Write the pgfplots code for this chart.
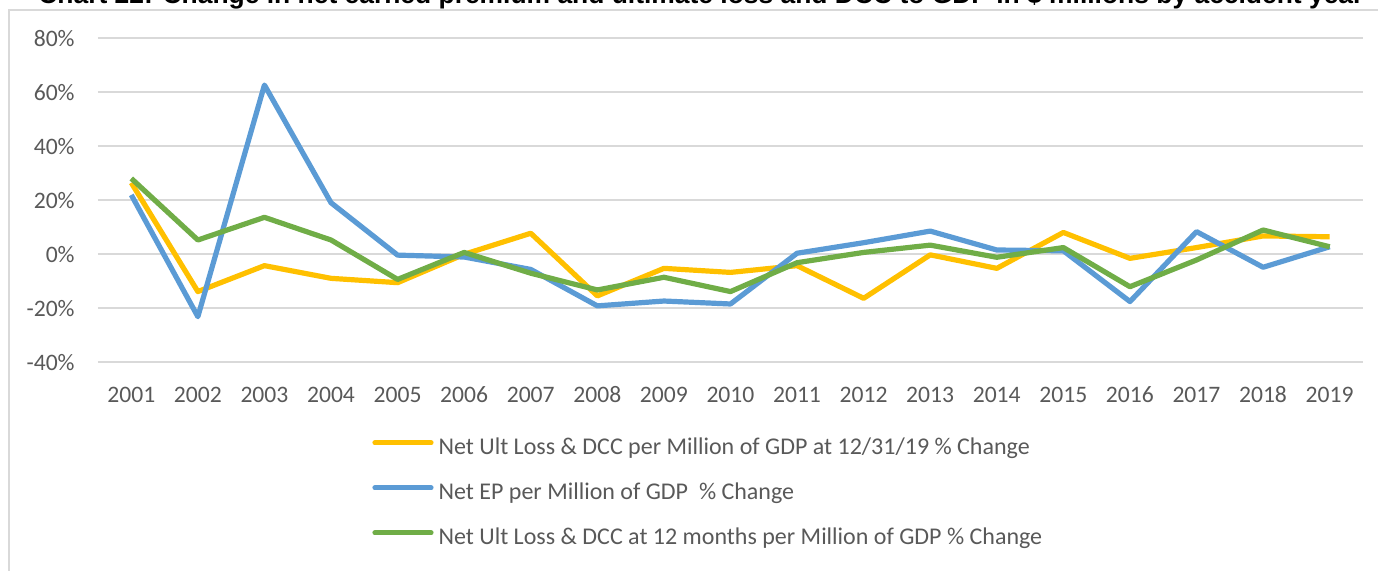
\documentclass[border=0pt]{standalone}
\usepackage{pgfplots}
\pgfplotsset{compat=1.18}
\usepackage{fontspec}
\setmainfont{Carlito}
\newfontfamily\titlefont{Liberation Sans}

\definecolor{cYel}{HTML}{FFC000}
\definecolor{cBlu}{HTML}{5B9BD5}
\definecolor{cGrn}{HTML}{70AD47}
\definecolor{cGrid}{HTML}{D9D9D9}
\definecolor{cTxt}{HTML}{595959}

\begin{document}
\begin{tikzpicture}
\path[use as bounding box, clip] (0,0) rectangle (689pt,285pt);
% chart frame (runs past the cropped edges)
\draw[cGrid, line width=1pt] (4.5pt,-10pt) -- (4.5pt,280pt) -- (700pt,280pt);
% title, cut at the top like the source
\node[anchor=base west, inner sep=0pt] at (19pt,283.5pt)
  {\resizebox{662.5pt}{!}{\titlefont\bfseries Chart 22: Change in net earned premium and ultimate loss and DCC to GDP in \$ millions by accident year}};
\begin{axis}[
  at={(49pt,103.85pt)}, anchor=south west,
  width=632.5pt, height=162pt, scale only axis,
  xmin=2000.5, xmax=2019.5, ymin=-40, ymax=80,
  xtick={2001,2002,...,2019},
  xticklabel style={/pgf/number format/1000 sep={}, anchor=center, yshift=-16.3pt},
  ytick={-40,-20,...,80},
  yticklabels={-40\%,-20\%,0\%,20\%,40\%,60\%,80\%},
  yticklabel style={anchor=east, inner sep=0pt, xshift=-11.5pt},
  /pgf/number format/assume math mode=true,
  tick label style={font=\fontsize{11.8}{13}\selectfont, text=cTxt},
  major tick length=0pt,
  axis line style={draw=none},
  ymajorgrids, grid style={cGrid, line width=1pt},
  legend cell align=left,
  legend style={at={(0.2166,-0.2336)}, anchor=north west, draw=none, fill=none,
    inner sep=0pt, row sep=12pt, font=\fontsize{12}{13}\selectfont, text=cTxt,
    nodes={inner sep=0pt, text height=8pt, text depth=2.5pt},
    /tikz/every odd column/.append style={column sep=2.5pt}},
  legend image code/.code={\draw[#1, line cap=round] (0pt,3pt) -- (28pt,3pt);},
  every axis plot/.append style={line width=2.6pt, line join=round},
]
\addplot[color=cYel] coordinates {
 (2001,26.5) (2002,-13.8) (2003,-4.2) (2004,-8.9) (2005,-10.5) (2006,0.0)
 (2007,7.8) (2008,-15.4) (2009,-5.2) (2010,-6.7) (2011,-4.2) (2012,-16.3)
 (2013,-0.2) (2014,-5.2) (2015,8.1) (2016,-1.5) (2017,2.5) (2018,6.8) (2019,6.5)
};
\addlegendentry{Net Ult Loss \& DCC per Million of GDP at 12/31/19 \% Change}
\addplot[color=cBlu] coordinates {
 (2001,22.0) (2002,-23.1) (2003,62.7) (2004,19.1) (2005,-0.3) (2006,-1.0)
 (2007,-5.6) (2008,-19.1) (2009,-17.3) (2010,-18.4) (2011,0.4) (2012,4.3)
 (2013,8.6) (2014,1.6) (2015,1.3) (2016,-17.5) (2017,8.4) (2018,-4.8) (2019,2.8)
};
\addlegendentry{Net EP per Million of GDP \ \% Change}
\addplot[color=cGrn] coordinates {
 (2001,28.1) (2002,5.3) (2003,13.7) (2004,5.3) (2005,-9.3) (2006,0.7)
 (2007,-7.0) (2008,-13.2) (2009,-8.5) (2010,-13.8) (2011,-3.1) (2012,0.7)
 (2013,3.4) (2014,-1.1) (2015,2.5) (2016,-12.0) (2017,-2.1) (2018,9.0) (2019,2.8)
};
\addlegendentry{Net Ult Loss \& DCC at 12 months per Million of GDP \% Change}
\end{axis}
\end{tikzpicture}
\end{document}
